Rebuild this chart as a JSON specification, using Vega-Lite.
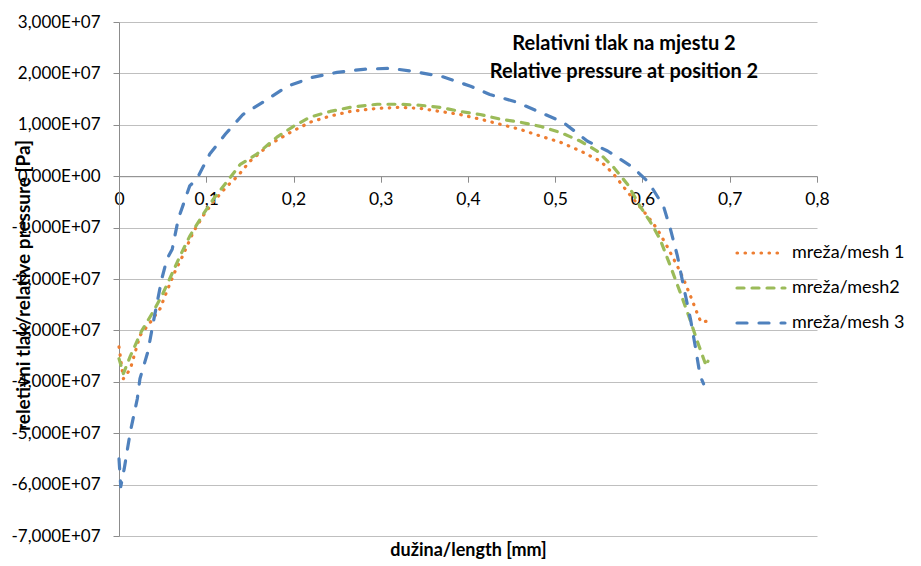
{
  "$schema": "https://vega.github.io/schema/vega-lite/v6.json",
  "width": 698,
  "height": 514,
  "autosize": {"type": "none"},
  "padding": {"left": 119, "top": 22, "right": 104, "bottom": 30},
  "background": "white",
  "config": {
    "view": {"stroke": null},
    "font": "Lato",
    "axis": {"labelFont": "Lato", "titleFont": "Lato"},
    "legend": {"labelFont": "Lato"}
  },
  "title": {
    "text": ["Relativni tlak na mjestu 2", "Relative pressure at position  2"],
    "font": "Lato",
    "fontSize": 20,
    "fontWeight": "bold",
    "color": "#000000",
    "anchor": "middle",
    "frame": "group",
    "baseline": "top",
    "offset": 0,
    "dx": 156,
    "dy": 69,
    "lineHeight": 28
  },
  "data": {
    "values": [
      {"series": "mreža/mesh 1", "x": 0.000, "y": -33200000},
      {"series": "mreža/mesh 1", "x": 0.005, "y": -39400000},
      {"series": "mreža/mesh 1", "x": 0.013, "y": -37500000},
      {"series": "mreža/mesh 1", "x": 0.024, "y": -31000000},
      {"series": "mreža/mesh 1", "x": 0.036, "y": -28400000},
      {"series": "mreža/mesh 1", "x": 0.047, "y": -25800000},
      {"series": "mreža/mesh 1", "x": 0.056, "y": -21900000},
      {"series": "mreža/mesh 1", "x": 0.064, "y": -18600000},
      {"series": "mreža/mesh 1", "x": 0.073, "y": -15500000},
      {"series": "mreža/mesh 1", "x": 0.085, "y": -10900000},
      {"series": "mreža/mesh 1", "x": 0.096, "y": -7800000},
      {"series": "mreža/mesh 1", "x": 0.108, "y": -5000000},
      {"series": "mreža/mesh 1", "x": 0.124, "y": -1900000},
      {"series": "mreža/mesh 1", "x": 0.136, "y": 0},
      {"series": "mreža/mesh 1", "x": 0.150, "y": 2900000},
      {"series": "mreža/mesh 1", "x": 0.173, "y": 6200000},
      {"series": "mreža/mesh 1", "x": 0.196, "y": 8500000},
      {"series": "mreža/mesh 1", "x": 0.219, "y": 10500000},
      {"series": "mreža/mesh 1", "x": 0.242, "y": 11700000},
      {"series": "mreža/mesh 1", "x": 0.265, "y": 12600000},
      {"series": "mreža/mesh 1", "x": 0.296, "y": 13200000},
      {"series": "mreža/mesh 1", "x": 0.322, "y": 13400000},
      {"series": "mreža/mesh 1", "x": 0.345, "y": 13200000},
      {"series": "mreža/mesh 1", "x": 0.368, "y": 12600000},
      {"series": "mreža/mesh 1", "x": 0.391, "y": 12000000},
      {"series": "mreža/mesh 1", "x": 0.414, "y": 11100000},
      {"series": "mreža/mesh 1", "x": 0.437, "y": 10100000},
      {"series": "mreža/mesh 1", "x": 0.460, "y": 9100000},
      {"series": "mreža/mesh 1", "x": 0.483, "y": 7800000},
      {"series": "mreža/mesh 1", "x": 0.506, "y": 6600000},
      {"series": "mreža/mesh 1", "x": 0.529, "y": 4900000},
      {"series": "mreža/mesh 1", "x": 0.552, "y": 2900000},
      {"series": "mreža/mesh 1", "x": 0.567, "y": 400000},
      {"series": "mreža/mesh 1", "x": 0.583, "y": -3100000},
      {"series": "mreža/mesh 1", "x": 0.606, "y": -7800000},
      {"series": "mreža/mesh 1", "x": 0.617, "y": -10300000},
      {"series": "mreža/mesh 1", "x": 0.628, "y": -13600000},
      {"series": "mreža/mesh 1", "x": 0.640, "y": -17500000},
      {"series": "mreža/mesh 1", "x": 0.647, "y": -20000000},
      {"series": "mreža/mesh 1", "x": 0.655, "y": -23300000},
      {"series": "mreža/mesh 1", "x": 0.663, "y": -26800000},
      {"series": "mreža/mesh 1", "x": 0.667, "y": -28400000},
      {"series": "mreža/mesh 1", "x": 0.674, "y": -28200000},

      {"series": "mreža/mesh2", "x": 0.000, "y": -35500000},
      {"series": "mreža/mesh2", "x": 0.005, "y": -38400000},
      {"series": "mreža/mesh2", "x": 0.013, "y": -35000000},
      {"series": "mreža/mesh2", "x": 0.026, "y": -30100000},
      {"series": "mreža/mesh2", "x": 0.039, "y": -26400000},
      {"series": "mreža/mesh2", "x": 0.049, "y": -23300000},
      {"series": "mreža/mesh2", "x": 0.058, "y": -20000000},
      {"series": "mreža/mesh2", "x": 0.070, "y": -15500000},
      {"series": "mreža/mesh2", "x": 0.081, "y": -11700000},
      {"series": "mreža/mesh2", "x": 0.095, "y": -7800000},
      {"series": "mreža/mesh2", "x": 0.108, "y": -4500000},
      {"series": "mreža/mesh2", "x": 0.124, "y": -1000000},
      {"series": "mreža/mesh2", "x": 0.139, "y": 2300000},
      {"series": "mreža/mesh2", "x": 0.158, "y": 4300000},
      {"series": "mreža/mesh2", "x": 0.181, "y": 7600000},
      {"series": "mreža/mesh2", "x": 0.200, "y": 9700000},
      {"series": "mreža/mesh2", "x": 0.219, "y": 11500000},
      {"series": "mreža/mesh2", "x": 0.242, "y": 12600000},
      {"series": "mreža/mesh2", "x": 0.265, "y": 13400000},
      {"series": "mreža/mesh2", "x": 0.296, "y": 14000000},
      {"series": "mreža/mesh2", "x": 0.322, "y": 14000000},
      {"series": "mreža/mesh2", "x": 0.345, "y": 13800000},
      {"series": "mreža/mesh2", "x": 0.368, "y": 13400000},
      {"series": "mreža/mesh2", "x": 0.391, "y": 12600000},
      {"series": "mreža/mesh2", "x": 0.414, "y": 12000000},
      {"series": "mreža/mesh2", "x": 0.437, "y": 11100000},
      {"series": "mreža/mesh2", "x": 0.460, "y": 10500000},
      {"series": "mreža/mesh2", "x": 0.483, "y": 9700000},
      {"series": "mreža/mesh2", "x": 0.506, "y": 8500000},
      {"series": "mreža/mesh2", "x": 0.529, "y": 6800000},
      {"series": "mreža/mesh2", "x": 0.548, "y": 4900000},
      {"series": "mreža/mesh2", "x": 0.567, "y": 1700000},
      {"series": "mreža/mesh2", "x": 0.583, "y": -1600000},
      {"series": "mreža/mesh2", "x": 0.597, "y": -5800000},
      {"series": "mreža/mesh2", "x": 0.609, "y": -8900000},
      {"series": "mreža/mesh2", "x": 0.620, "y": -12200000},
      {"series": "mreža/mesh2", "x": 0.632, "y": -17500000},
      {"series": "mreža/mesh2", "x": 0.643, "y": -22500000},
      {"series": "mreža/mesh2", "x": 0.653, "y": -27200000},
      {"series": "mreža/mesh2", "x": 0.663, "y": -32200000},
      {"series": "mreža/mesh2", "x": 0.670, "y": -35500000},
      {"series": "mreža/mesh2", "x": 0.673, "y": -36900000},
      {"series": "mreža/mesh2", "x": 0.675, "y": -36000000},

      {"series": "mreža/mesh 3", "x": 0.000, "y": -55000000},
      {"series": "mreža/mesh 3", "x": 0.002, "y": -60400000},
      {"series": "mreža/mesh 3", "x": 0.006, "y": -56900000},
      {"series": "mreža/mesh 3", "x": 0.013, "y": -49700000},
      {"series": "mreža/mesh 3", "x": 0.021, "y": -43300000},
      {"series": "mreža/mesh 3", "x": 0.024, "y": -39400000},
      {"series": "mreža/mesh 3", "x": 0.033, "y": -34200000},
      {"series": "mreža/mesh 3", "x": 0.040, "y": -27800000},
      {"series": "mreža/mesh 3", "x": 0.049, "y": -20000000},
      {"series": "mreža/mesh 3", "x": 0.055, "y": -16100000},
      {"series": "mreža/mesh 3", "x": 0.061, "y": -14200000},
      {"series": "mreža/mesh 3", "x": 0.068, "y": -8300000},
      {"series": "mreža/mesh 3", "x": 0.081, "y": -1900000},
      {"series": "mreža/mesh 3", "x": 0.089, "y": -600000},
      {"series": "mreža/mesh 3", "x": 0.104, "y": 4300000},
      {"series": "mreža/mesh 3", "x": 0.122, "y": 8200000},
      {"series": "mreža/mesh 3", "x": 0.142, "y": 12000000},
      {"series": "mreža/mesh 3", "x": 0.167, "y": 14600000},
      {"series": "mreža/mesh 3", "x": 0.193, "y": 17500000},
      {"series": "mreža/mesh 3", "x": 0.221, "y": 19200000},
      {"series": "mreža/mesh 3", "x": 0.250, "y": 20200000},
      {"series": "mreža/mesh 3", "x": 0.280, "y": 20800000},
      {"series": "mreža/mesh 3", "x": 0.311, "y": 21000000},
      {"series": "mreža/mesh 3", "x": 0.337, "y": 20400000},
      {"series": "mreža/mesh 3", "x": 0.370, "y": 19400000},
      {"series": "mreža/mesh 3", "x": 0.403, "y": 17500000},
      {"series": "mreža/mesh 3", "x": 0.425, "y": 15900000},
      {"series": "mreža/mesh 3", "x": 0.456, "y": 14400000},
      {"series": "mreža/mesh 3", "x": 0.483, "y": 12400000},
      {"series": "mreža/mesh 3", "x": 0.509, "y": 10500000},
      {"series": "mreža/mesh 3", "x": 0.537, "y": 6800000},
      {"series": "mreža/mesh 3", "x": 0.560, "y": 4900000},
      {"series": "mreža/mesh 3", "x": 0.589, "y": 1700000},
      {"series": "mreža/mesh 3", "x": 0.607, "y": -1200000},
      {"series": "mreža/mesh 3", "x": 0.624, "y": -5800000},
      {"series": "mreža/mesh 3", "x": 0.632, "y": -10300000},
      {"series": "mreža/mesh 3", "x": 0.640, "y": -15500000},
      {"series": "mreža/mesh 3", "x": 0.647, "y": -21400000},
      {"series": "mreža/mesh 3", "x": 0.655, "y": -27800000},
      {"series": "mreža/mesh 3", "x": 0.661, "y": -33600000},
      {"series": "mreža/mesh 3", "x": 0.666, "y": -38800000},
      {"series": "mreža/mesh 3", "x": 0.670, "y": -40400000}
    ]
  },
  "mark": {"type": "line", "strokeWidth": 3.2, "strokeCap": "round", "strokeJoin": "round"},
  "encoding": {
    "x": {
      "field": "x",
      "type": "quantitative",
      "scale": {"domain": [0, 0.8], "nice": false, "zero": false},
      "axis": {
        "values": [0, 0.1, 0.2, 0.3, 0.4, 0.5, 0.6, 0.7, 0.8],
        "labelExpr": "replace(format(datum.value, '.1~f'), '.', ',')",
        "offset": -359.8,
        "grid": false,
        "domainColor": "#8c8c8c",
        "domainWidth": 1,
        "tickColor": "#8c8c8c",
        "tickSize": 6,
        "labelFontSize": 17.5,
        "labelColor": "#000000",
        "labelPadding": 8,
        "labelFlush": false,
        "title": "dužina/length [mm]",
        "titleFontSize": 18,
        "titleFontWeight": "bold",
        "titleColor": "#000000",
        "titleBaseline": "middle",
        "titleY": 374
      }
    },
    "y": {
      "field": "y",
      "type": "quantitative",
      "scale": {"domain": [-70000000, 30000000], "nice": false},
      "axis": {
        "values": [-70000000, -60000000, -50000000, -40000000, -30000000, -20000000, -10000000, 0, 10000000, 20000000, 30000000],
        "labelExpr": "(datum.value < 0 ? '-' : '') + replace(format(abs(datum.value) / 1e7, '.3f'), '.', ',') + (datum.value == 0 ? 'E+00' : 'E+07')",
        "grid": true,
        "gridColor": "#bfbfbf",
        "gridWidth": 1,
        "domainColor": "#8c8c8c",
        "domainWidth": 1,
        "tickColor": "#8c8c8c",
        "tickSize": 6,
        "labelFontSize": 17,
        "labelColor": "#000000",
        "labelPadding": 13,
        "title": "reletivni tlak/relative pressure [Pa]",
        "titleFontSize": 19,
        "titleFontWeight": "bold",
        "titleColor": "#000000",
        "titleAngle": -90,
        "titleBaseline": "middle",
        "titleAlign": "center",
        "titleX": -96,
        "titleY": 263
      }
    },
    "color": {
      "field": "series",
      "type": "nominal",
      "scale": {
        "domain": ["mreža/mesh 1", "mreža/mesh2", "mreža/mesh 3"],
        "range": ["#ED7D31", "#9BBB59", "#4F81BD"]
      },
      "legend": {
        "title": null,
        "orient": "none",
        "legendX": 616,
        "legendY": 205,
        "padding": 0,
        "symbolType": "stroke",
        "symbolSize": 2300,
        "symbolStrokeWidth": 3.2,
        "labelFontSize": 18,
        "labelColor": "#000000",
        "labelOffset": 5,
        "rowPadding": -13,
        "encode": {"symbols": {"update": {"strokeCap": {"value": "round"}}}}
      }
    },
    "strokeDash": {
      "field": "series",
      "type": "nominal",
      "scale": {
        "domain": ["mreža/mesh 1", "mreža/mesh2", "mreža/mesh 3"],
        "range": [[0.5, 7.5], [7, 8], [10, 12]]
      },
      "legend": null
    }
  }
}
